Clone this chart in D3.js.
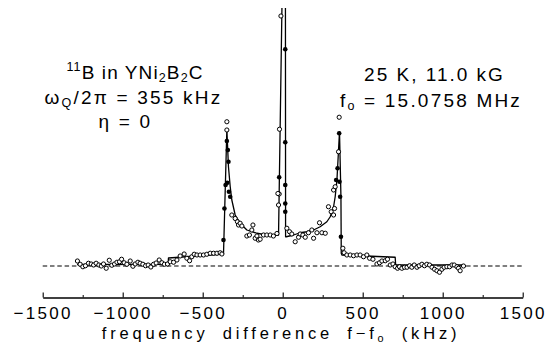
<!DOCTYPE html>
<html>
<head>
<meta charset="utf-8">
<script src="https://cdn.jsdelivr.net/npm/d3@7"></script>
<style>
  body { margin: 0; background: #fff; }
</style>
</head>
<body>
<div id="container"></div>
<script>
// values (x in kHz, intensity in arbitrary units, 0 = dashed baseline)

// simulated line shape
let lineKHz = [-1285, -716, -714, -370, -349, -339, -328, -318, -297, -266, -224, -161, -99, -36, -26, -2, 17, 18, 22, 68, 109, 151, 193, 234, 276, 297, 318, 328, 339, 349, 355, 364, 366, 370, 703, 706, 1130];
let lineVal = [0.6, 0.7, 3.2, 4.8, 54.7, 39.7, 31.7, 26.4, 20.4, 17.1, 14.4, 13.1, 12.4, 12.4, 12.4, 115, 115, 11.7, 11.7, 12.4, 13.3, 13.7, 14.4, 15.7, 17.7, 19.7, 23.7, 27.7, 34.4, 46.4, 53.7, 27.7, 5.1, 4.4, 3.5, 0.4, 0.4];

// open circles
let openKHz = [-1283, -1266, -1249, -1233, -1214, -1197, -1182, -1166, -1149, -1134, -1120, -1103, -1084, -1068, -1051, -1036, -1020, -1007, -991, -974, -953, -936, -922, -905, -891, -874, -857, -841, -824, -807, -791, -772, -755, -739, -720, -703, -682, -661, -641, -616, -599, -582, -568, -553, -536, -516, -495, -474, -453, -432, -411, -391, -380,
  -349, -349, -318, -297, -283, -276, -266, -255, -224, -208, -193, -186, -172, -161, -152, -141, -120, -99, -78, -58, -36,
  -11, -20, -22, -26, -30,
  26, 43, 57, 78, 99, 109, 126, 141, 161, 182, 193, 214, 230, 245, 266, 286, 303, 318, 324, 318, 328, 349, 353,
  376, 384, 401, 422, 443, 464, 484, 505, 526, 543, 564, 589, 605, 620, 641, 655, 672, 689, 703, 718, 730, 745, 761, 777, 793, 807, 822, 839, 853, 870, 886, 901, 918, 933, 949, 964, 980, 995, 1009, 1026, 1043, 1058, 1072, 1089, 1099, 1109, 1130];
let openVal = [2.0, 0.7, -0.3, 0.1, 1.1, 0.8, 0.4, 1.1, 0.4, 0, 0.8, -0.9, 2.3, 0.3, 0.8, 1.5, 1.7, 2.7, 1.3, 0.7, 2.0, -0.1, 0.8, 1.5, 1.1, 0.7, 0.1, 0.4, -0.4, 0.7, 1.2, 2.4, 1.3, 0.7, 0.8, 1.7, 1.5, 2.4, 4.0, 4.8, 3.1, 2.1, 3.7, 4.7, 4.4, 4.4, 4.4, 4.7, 5.1, 5.1, 5.1, 5.3, 4.8,
  57.7, 54.4, 20.4, 19, 17.7, 16.4, 17.1, 16, 12, 12.4, 14.4, 16.4, 11.1, 12, 10.4, 10.7, 12.4, 12.4, 12.4, 12, 13,
  100, 54.7, 28.8, 24.4, 29,
  15.1, 13.7, 12.8, 9.7, 11.5, 12.8, 12.4, 11.5, 13.3, 14.4, 11.1, 13.3, 17.3, 13.3, 13.1, 23.7, 21.7, 20.4, 23, 30.4, 31.7, 45.7, 59.5,
  7.1, 5.3, 4.4, 4.4, 4.1, 4.4, 4.4, 3.7, 4.4, 3.1, 2.7, 0.8, 1.3, 2.0, 2.1, 2.7, 0.4, 0.8, -0.3, -0.9, -0.3, -0.9, -0.5, -0.5, 0.1, -0.5, 0.4, -0.5, 0.1, 0.7, 0.1, 0.7, 0.4, -0.5, -1.3, -1.9, -2.5, -1.3, -0.5, -0.3, -0.3, 0.4, 0.4, -0.3, -0.9, -1.9, 0];

// filled dots
let dotKHz = [-370, -364, -357, -349, -343, -339, -346, -336, -328, -22, 16, 16, 16, 16, 16, 334, 343, 353, 355, 359, 364];
let dotVal = [10.4, 23, 32.4, 50, 46.4, 41.7, 33.3, 29.7, 27.7, 35.5, 86.7, 49.5, 32.4, 25, 21.7, 34.4, 39.1, 53.1, 33.7, 27.7, 11.7];

// axis ticks
let xTicks = [-1500, -1000, -500, 0, 500, 1000, 1500];
let xMinor = [-1250, -750, -250, 250, 750, 1250];
let baseKHz = [-1500, 1500];

let w = 552;
let h = 356;
let font = "'Liberation Sans', Arial, sans-serif";

let svg = d3.select("#container")
  .append("svg")
    .attr("width", w)
    .attr("height", h)
    .style("display", "block")
    .style("background", "#fff");

let xScale = d3.scaleLinear().domain([-1500, 1500]).range([42.7, 522.7]);
let yScale = d3.scaleLinear().domain([0, 103.2]).range([266, 8]);

// clip so the central peak stops at the frame top
svg.append("clipPath").attr("id", "plotClip")
  .append("rect")
    .attr("x", 0)
    .attr("y", yScale(103.2))
    .attr("width", w)
    .attr("height", yScale(0) - yScale(103.2) + 30);

let plot = svg.append("g").attr("clip-path", "url(#plotClip)");

// dashed baseline
plot.append("line")
  .attr("x1", xScale(baseKHz[0]))
  .attr("x2", xScale(baseKHz[1]))
  .attr("y1", yScale(0))
  .attr("y2", yScale(0))
  .attr("stroke", "#000")
  .attr("stroke-width", 1.1)
  .attr("stroke-dasharray", "4.5,2.8");

// the line
let lineData = lineKHz.map((k, i) => [k, lineVal[i]]);
let line = d3.line().x(d => xScale(d[0])).y(d => yScale(d[1]));
plot.append("path")
  .datum(lineData)
  .attr("d", line)
  .attr("fill", "none")
  .attr("stroke", "#000")
  .attr("stroke-width", 1.3)
  .attr("stroke-linejoin", "round");

// open circles
let openData = openKHz.map((k, i) => [k, openVal[i]]);
plot.selectAll(".open").data(openData).enter()
  .append("circle")
    .classed("open", true)
    .attr("cx", d => xScale(d[0]))
    .attr("cy", d => yScale(d[1]))
    .attr("r", 2.1)
    .attr("fill", "#fff")
    .attr("stroke", "#000")
    .attr("stroke-width", 1);

// filled dots
let dotData = dotKHz.map((k, i) => [k, dotVal[i]]);
plot.selectAll(".dot").data(dotData).enter()
  .append("circle")
    .classed("dot", true)
    .attr("cx", d => xScale(d[0]))
    .attr("cy", d => yScale(d[1]))
    .attr("r", 2.3)
    .attr("fill", "#000");

// x axis, ticks point up
let axisY = 297.5;
let xAxis = d3.axisBottom(xScale)
  .tickValues(xTicks)
  .tickFormat(d3.format("d"))
  .tickSizeInner(-5)
  .tickSizeOuter(0)
  .tickPadding(9);
let xAxisGroup = svg.append("g")
  .attr("transform", "translate(0," + axisY + ")")
  .call(xAxis);
xAxisGroup.select(".domain").attr("stroke-width", 1.3);
xAxisGroup.selectAll("line").attr("stroke-width", 1.1);
xAxisGroup.selectAll("text")
  .attr("font-family", font)
  .attr("font-size", 17)
  .attr("letter-spacing", 2.3)
  .attr("fill", "#000");

let minorAxis = d3.axisBottom(xScale)
  .tickValues(xMinor)
  .tickSizeInner(-2.5)
  .tickSizeOuter(0)
  .tickFormat("");
let minorGroup = svg.append("g")
  .attr("transform", "translate(0," + axisY + ")")
  .call(minorAxis);
minorGroup.select(".domain").remove();

// text with sub/superscripts
function richText(x, y, parts, size, spacing) {
  let t = svg.append("text")
    .attr("x", x)
    .attr("y", y)
    .attr("text-anchor", "middle")
    .attr("font-family", font)
    .attr("font-size", size)
    .attr("letter-spacing", spacing)
    .attr("fill", "#000");
  let shift = 0;
  parts.forEach(p => {
    let s = p[1] == "sup" ? -0.4 * size : (p[1] == "sub" ? 0.2 * size : 0);
    t.append("tspan")
      .attr("dy", s - shift)
      .attr("font-size", p[1] == "n" ? size : size * 0.66)
      .text(p[0]);
    shift = s;
  });
  return t;
}

richText(135, 78.5, [["11", "sup"], ["B in YNi", "n"], ["2", "sub"], ["B", "n"], ["2", "sub"], ["C", "n"]], 19, 1.1);
richText(133.5, 103.5, [["ω", "n"], ["Q", "sub"], ["/2π = 355 kHz", "n"]], 19, 2.2);
richText(125.5, 127.5, [["η = 0", "n"]], 19, 2.2);
richText(434.5, 81, [["25 K, 11.0 kG", "n"]], 19, 2.0);
richText(431, 106.5, [["f", "n"], ["o", "sub"], [" = 15.0758 MHz", "n"]], 19, 2.2);

let title = richText(281, 338.5, [["frequency difference f−f", "n"], ["o", "sub"], [" (kHz)", "n"]], 16.5, 3.8);
title.attr("word-spacing", 6);
</script>
</body>
</html>
